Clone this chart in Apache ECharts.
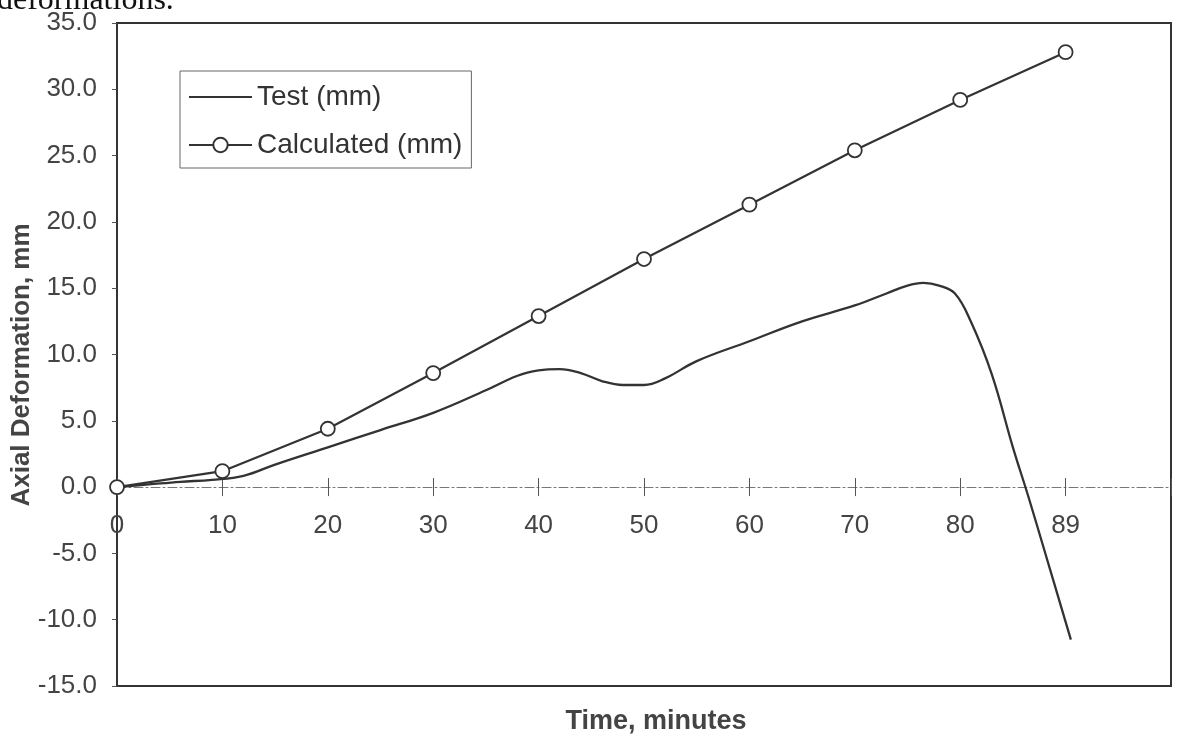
<!DOCTYPE html>
<html>
<head>
<meta charset="utf-8">
<script src="https://cdn.jsdelivr.net/npm/echarts@6/dist/echarts.min.js"></script>
<style>
html,body{margin:0;padding:0;background:#fff;}
#chart{width:1180px;height:737px;}
</style>
</head>
<body>
<div id="chart"></div>
<script>
// ---- data ----
const xTickLabels = ['0','10','20','30','40','50','60','70','80','89',''];
const calcTime = [0,10,20,30,40,50,60,70,80,90];
const calcDeformation = [0,1.2,4.4,8.6,12.9,17.2,21.3,25.4,29.2,32.8];
const testTime = [0,3,6,9,12,15,20,25,30,35,38,40,42,44,46,48,50,52,55,60,65,70,73,75,76.5,78,79.5,81,83,85,86.5,88,90.5];
const testDeformation = [0,0.2,0.4,0.55,0.85,1.7,3.0,4.3,5.6,7.3,8.4,8.8,8.9,8.6,8.0,7.7,7.7,8.2,9.5,11.0,12.5,13.7,14.6,15.2,15.4,15.2,14.6,12.5,8.5,3.0,-0.8,-4.8,-11.5];
const yTickLabelDigits = 1;

const Y_MIN = -15, Y_MAX = 35;
const GRID = {left:117, right:9, top:23, bottom:51};
const plotH = 737 - GRID.top - GRID.bottom;
const zeroFromBottom = plotH * (0 - Y_MIN) / (Y_MAX - Y_MIN);
const zeroFromTop = plotH - zeroFromBottom;

const chart = echarts.init(document.getElementById('chart'));
const ink = '#333';
const txt = '#444';
const sans = '"Liberation Sans", Arial, sans-serif';
chart.setOption({
  animation:false,
  backgroundColor:'#fff',
  grid:Object.assign({show:true,borderColor:ink,borderWidth:2,backgroundColor:'transparent'}, GRID),
  legend:{
    orient:'vertical',left:180,top:71,
    padding:[12,9,9,8],itemGap:20,itemWidth:63,itemHeight:18,
    borderColor:'#666',borderWidth:1,
    textStyle:{fontFamily:sans,fontSize:28,color:ink},
    data:[
      {name:'Test (mm)',icon:'path://M0,0 L63,0 L63,2.2 L0,2.2 Z'},
      {name:'Calculated (mm)'}
    ]
  },
  xAxis:[{
    type:'value',min:0,max:100,interval:10,position:'bottom',offset:-zeroFromBottom,
    axisLine:{onZero:false,lineStyle:{color:'#777',width:1,type:[9,3,2,3]}},
    axisTick:{show:true,length:9,lineStyle:{color:'#555',width:1}},
    axisLabel:{margin:26,fontSize:26,color:txt,fontFamily:sans,
      formatter:function(v){return xTickLabels[Math.round(v/10)];}},
    splitLine:{show:false}
  },{
    type:'value',min:0,max:100,interval:10,position:'top',offset:-zeroFromTop,
    axisLine:{onZero:false,show:false},
    axisTick:{show:true,length:9,lineStyle:{color:'#555',width:1}},
    axisLabel:{show:false},splitLine:{show:false}
  }],
  yAxis:{
    type:'value',min:Y_MIN,max:Y_MAX,interval:5,
    axisLine:{show:true,onZero:false,lineStyle:{color:ink,width:2}},
    axisTick:{show:true,length:5,lineStyle:{color:'#555'}},
    axisLabel:{margin:20,fontSize:26,color:txt,fontFamily:sans,
      formatter:function(v){return v.toFixed(yTickLabelDigits);}},
    splitLine:{show:false}
  },
  series:[{
    name:'Test (mm)',type:'line',smooth:0.4,symbol:'none',
    lineStyle:{color:ink,width:2.3},itemStyle:{color:ink},
    data:testTime.map((t,i)=>[t,testDeformation[i]])
  },{
    name:'Calculated (mm)',type:'line',symbol:'circle',symbolSize:14,
    lineStyle:{color:ink,width:2.2},
    itemStyle:{color:'#fff',borderColor:ink,borderWidth:1.8},
    data:calcTime.map((t,i)=>[t,calcDeformation[i]])
  }],
  graphic:[{
    type:'text',left:-3,top:-15,
    style:{text:'deformations.',font:'32px "Liberation Serif", "Times New Roman", serif',fill:'#111'}
  },{
    type:'text',x:656,y:722,
    style:{text:'Time, minutes',font:'bold 27px '+sans,fill:txt,align:'center',verticalAlign:'middle'}
  },{
    type:'text',x:22,y:365,rotation:Math.PI/2,
    style:{text:'Axial Deformation, mm',font:'bold 26px '+sans,fill:txt,align:'center',verticalAlign:'middle'}
  }]
});
</script>
</body>
</html>
